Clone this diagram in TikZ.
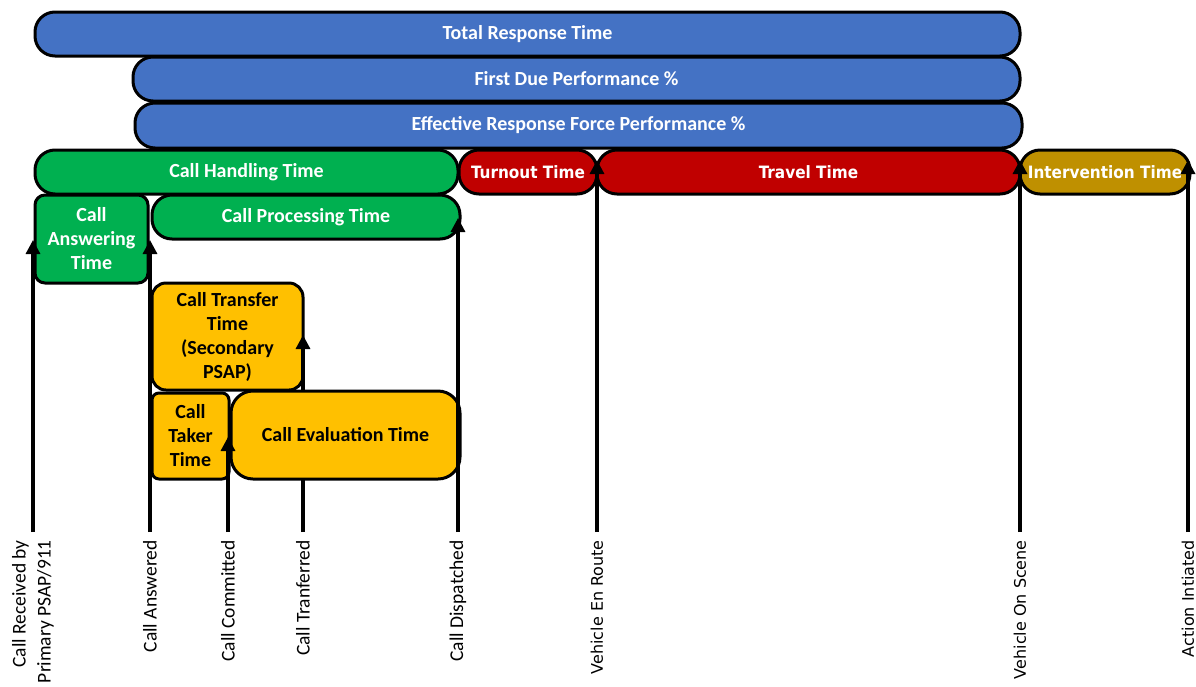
\documentclass[tikz,border=0pt]{standalone}
\usepackage{fontspec}
\usetikzlibrary{arrows.meta}
\setmainfont{Carlito}
\newfontfamily\djv{DejaVu Sans}
\IfFontExistsTF{DejaVu Sans Condensed}{\newfontfamily\djvc{DejaVu Sans Condensed}}{\newfontfamily\djvc{DejaVu Sans}[FakeStretch=0.9]}
\definecolor{blu}{HTML}{4472C4}
\definecolor{grn}{HTML}{00B050}
\definecolor{crd}{HTML}{C00000}
\definecolor{gld}{HTML}{BF9000}
\definecolor{ylw}{HTML}{FFC000}
\begin{document}
\begin{tikzpicture}[x=1pt,y=-1pt,
  bar/.style={draw,line width=3pt,rounded corners=20pt,inner sep=0pt,align=center,text=white,font=\fontsize{20}{24}\selectfont\bfseries},
  sz/.style 2 args={minimum width=#1,minimum height=#2},
  yel/.style={bar,fill=ylw,text=black},
  rbar/.style={bar,font=\djvc\bfseries\fontsize{17}{20}\selectfont},
  evl/.style={rotate=90,anchor=east,align=right,inner xsep=8pt,inner ysep=0pt,font=\fontsize{19.5}{25}\selectfont},
  evr/.style={evl,font=\djv\fontsize{16}{20}\selectfont},
  evt/.style={line width=3.2pt,-{Triangle[length=14pt,width=14pt]}}]
\useasboundingbox (0,0) rectangle (1196,686);
% events
\node[evl] (ev1) at (33,532) {Call Received by\\Primary PSAP/911};
\node[evl] (ev2) at (150,532) {Call Answered};
\node[evl] (ev3) at (228,532) {Call Committed};
\node[evl] (ev4) at (303,532) {Call Tranferred};
\node[evl] (ev5) at (458,532) {Call Dispatched};
\node[evr] (ev6) at (597,532) {Vehicle En Route};
\node[evr] (ev7) at (1020,532) {Vehicle On Scene};
\node[evr] (ev8) at (1188,532) {Action Intiated};
\coordinate (tp1) at (33,240); \coordinate (tp2) at (150,240); \coordinate (tp3) at (228,437);
\coordinate (tp4) at (303,335); \coordinate (tp5) at (458,218); \coordinate (tp6) at (597,160);
\coordinate (tp7) at (1020,160); \coordinate (tp8) at (1188,160);
% overall bars
\node[bar,fill=blu,sz={985}{44}] (trt) at (527.5,34) {Total Response Time};
\node[bar,fill=blu,sz={887}{44}] (fdp) at (576.5,79) {First Due Performance \%};
\node[bar,fill=blu,sz={887}{45}] (erf) at (578.5,125.5) {Effective Response Force Performance \%};
% phases
\node[bar,fill=grn,sz={423}{44}] (cht) at (246.5,172) {Call Handling Time};
\node[rbar,fill=crd,sz={138}{44}] (tot) at (528,172) {Turnout Time};
\node[rbar,fill=crd,sz={423}{44}] (trv) at (808.5,172) {Travel Time};
\node[rbar,fill=gld,sz={170}{44}] (itv) at (1105,172) {Intervention Time};
\node[bar,fill=grn,sz={113}{88},rounded corners=10pt] (cat) at (91.5,239) {Call\\Answering\\Time};
\node[bar,fill=grn,sz={308}{44}] (cpt) at (306,217) {Call Processing Time};
% dispatch detail
\node[yel,sz={151}{107},rounded corners=14pt] (ctt) at (227.5,336.5) {Call Transfer\\Time\\(Secondary\\PSAP)};
\node[yel,sz={77}{86},rounded corners=7pt] (ctk) at (190.5,436) {Call\\Taker\\Time};
\draw[evt] (ev4.east) -- (tp4);
\node[yel,sz={229}{88},rounded corners=22pt] (cet) at (345.5,435) {Call Evaluation Time};
\draw[evt] (ev1.east) -- (tp1); \draw[evt] (ev2.east) -- (tp2); \draw[evt] (ev3.east) -- (tp3);
\draw[evt] (ev5.east) -- (tp5); \draw[evt] (ev6.east) -- (tp6);
\draw[evt] (ev7.east) -- (tp7); \draw[evt] (ev8.east) -- (tp8);
\end{tikzpicture}
\end{document}
